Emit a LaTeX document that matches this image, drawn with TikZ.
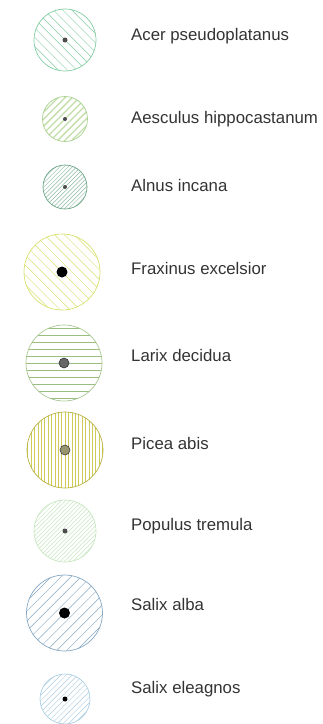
\documentclass[tikz,border=0pt]{standalone}
\usepackage{fontspec}
\setmainfont{Liberation Sans}
\usetikzlibrary{calc}
\definecolor{cAcer}{HTML}{84CCA4}
\definecolor{cAesc}{HTML}{C2DEA8}
\definecolor{cAescO}{HTML}{A8D08C}
\definecolor{cAlnus}{HTML}{6AA486}
\definecolor{cFrax}{HTML}{D8E070}
\definecolor{cLarix}{HTML}{9ABE80}
\definecolor{cLarixO}{HTML}{A8C890}
\definecolor{cPicea}{HTML}{D0CA58}
\definecolor{cPiceaO}{HTML}{B8B240}
\definecolor{cPop}{HTML}{C8E6C0}
\definecolor{cSalA}{HTML}{84A6C2}
\definecolor{cSalE}{HTML}{ACCEE2}
\tikzset{
  tree/.style={circle, draw, inner sep=0pt, minimum size=#1},
  hatch/.style n args={4}{path picture={
      \foreach \i in {-30,...,30}
        \draw[#3, line width=#4]
          ($(path picture bounding box.center)+(#1:\i*#2)+(#1+90:60)$) -- ++(#1+90:-120);}},
  dot/.style={circle, inner sep=0pt, minimum size=#1},
  label/.style={anchor=base west, font=\fontsize{16.8}{19}\selectfont, text=black!80, inner sep=0pt}
}
\begin{document}
\begin{tikzpicture}[x=1pt,y=1pt]
\path[use as bounding box] (0,0) rectangle (322,-724);
% Acer
\node[tree=62, draw=cAcer, line width=0.7pt, hatch={45}{6.5}{cAcer}{0.45pt}] (c1) at (65,-40) {};
\node[dot=5, fill=black!70] (d1) at (c1.center) {};
\node[label] (l1) at (131,-40) {Acer pseudoplatanus};
% Aesculus
\node[tree=45, draw=cAescO, line width=0.7pt, hatch={-45}{5}{cAesc}{1.3pt}] (c2) at (65,-119) {};
\node[dot=4, fill=black!70] (d2) at (c2.center) {};
\node[label] (l2) at (131,-123) {Aesculus hippocastanum};
% Alnus
\node[tree=44, draw=cAlnus, line width=0.7pt, hatch={-45}{3}{cAlnus!75}{0.4pt}] (c3) at (65,-187) {};
\node[dot=4, fill=black!70] (d3) at (c3.center) {};
\node[label] (l3) at (131,-191) {Alnus incana};
% Fraxinus
\node[tree=76, draw=cFrax, line width=0.7pt, hatch={45}{7}{cFrax}{0.45pt}] (c4) at (62,-272) {};
\node[dot=11, fill=black] (d4) at (c4.center) {};
\node[label] (l4) at (131,-274) {Fraxinus excelsior};
% Larix
\node[tree=76, draw=cLarixO, line width=0.7pt, hatch={90}{7}{cLarix}{0.45pt}] (c5) at (64,-363) {};
\node[dot=10, fill=black!60, draw=black!80, line width=0.6pt] (d5) at (c5.center) {};
\node[label] (l5) at (131,-361) {Larix decidua};
% Picea
\node[tree=76, draw=cPiceaO, line width=0.7pt, hatch={0}{3.4}{cPicea}{0.4pt}] (c6) at (65,-450) {};
\node[dot=10, fill=black!55!olive!60, draw=black!75, line width=0.6pt] (d6) at (c6.center) {};
\node[label] (l6) at (131,-449) {Picea abis};
% Populus
\node[tree=62, draw=cPop, line width=0.7pt, hatch={-45}{3}{cPop}{0.45pt}] (c7) at (65,-531) {};
\node[dot=5, fill=black!70] (d7) at (c7.center) {};
\node[label] (l7) at (131,-530) {Populus tremula};
% Salix alba
\node[tree=76, draw=cSalA, line width=0.7pt, hatch={-45}{7}{cSalA}{0.45pt}] (c8) at (64.5,-613) {};
\node[dot=11, fill=black] (d8) at (c8.center) {};
\node[label] (l8) at (131,-610) {Salix alba};
% Salix eleagnos
\node[tree=50, draw=cSalE, line width=0.7pt, hatch={-45}{4}{cSalE}{0.45pt}] (c9) at (65,-699) {};
\node[dot=5, fill=black] (d9) at (c9.center) {};
\node[label] (l9) at (131,-693) {Salix eleagnos};
\end{tikzpicture}
\end{document}
